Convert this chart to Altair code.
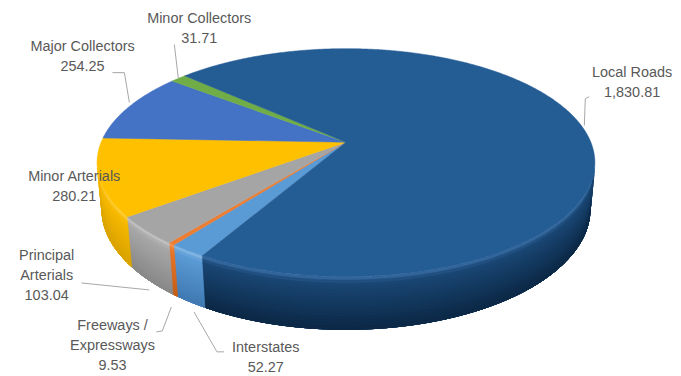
import altair as alt
import numpy as np
import pandas as pd

# ---- data ----
categories = ["Interstates", "Freeways / Expressways", "Principal Arterials",
              "Minor Arterials", "Major Collectors", "Minor Collectors", "Local Roads"]
values = [52.27, 9.53, 103.04, 280.21, 254.25, 31.71, 1830.81]
value_labels = ["52.27", "9.53", "103.04", "280.21", "254.25", "31.71", "1,830.81"]
name_lines = [["Interstates"], ["Freeways /", "Expressways"], ["Principal", "Arterials"],
              ["Minor Arterials"], ["Major Collectors"], ["Minor Collectors"], ["Local Roads"]]

# ---- style ----
top_colors = ["#5B9BD5", "#ED7D31", "#A5A5A5", "#FFC000", "#4472C4", "#70AD47", "#245C94"]
wall_edge = ["#8CBDE8", "#F59A5A", "#C8C8C8", "#FFD24D", "#6E92D6", "#8CC466", "#3A70A8"]
wall_hi = ["#5B9BD5", "#E8772A", "#A8A8A8", "#F7BA00", "#3F6BB8", "#66A03F", "#1A4674"]
wall_lo = ["#4079B2", "#C45E17", "#888888", "#D9A200", "#30579A", "#52862F", "#0C2845"]

CX, CY, F, DIST = 347.5, 142.0, 1225.0, 4.98
SIN_A = 0.4506
COS_A = float(np.sqrt(1 - SIN_A ** 2))
DEPTH = 0.2144
START = -119.7  # first slice starts here, slices go clockwise

# label placement: anchor kind, offset of first text line, leader offsets
label_style = {
    "Interstates": ("bottom", (75, 46), [(3, 10), (26, 50), (33, 50)]),
    "Freeways / Expressways": ("bottom", (-63, 31), [(-19, 37), (-13, 36), (-4, 12)]),
    "Principal Arterials": ("bottom", (-104, -25), [(-69, 2), (-1, 9)]),
    "Minor Arterials": ("top", (-25, 0), []),
    "Major Collectors": ("top", (-47, -60), [(0, -4), (-5, -34), (-17, -34)]),
    "Minor Collectors": ("top", (21, -60), [(0, 0), (-4, -34)]),
    "Local Roads": ("top", (51, -53), [(3, 0), (4, -27), (8, -29)]),
}


def hex2rgb(h):
    return np.array([int(h[i:i + 2], 16) for i in (1, 3, 5)], dtype=float)


def mix(c1, c2, w):
    r = hex2rgb(c1) * (1 - w) + hex2rgb(c2) * w
    return "#" + "".join(f"{int(round(v)):02X}" for v in r)


def proj(t, yv=0.0):
    tr = np.radians(t)
    X, Z = np.cos(tr), np.sin(tr)
    depth = DIST + Z * COS_A - yv * SIN_A
    sx = CX + F * X / depth
    sy = CY - F * (yv * COS_A + Z * SIN_A) / depth
    return sx, sy


total = float(sum(values))
spans = [v / total * 360.0 for v in values]
bounds = []
a = START
for s in spans:
    bounds.append((a, a - s))
    a -= s

lim = np.degrees(np.arcsin(1.0 / (DIST * COS_A)))
face_lo, face_hi = -180 + lim, -lim

poly_rows, keys, cols = [], [], []


def add_poly(key, color, pts):
    keys.append(key)
    cols.append(color)
    for i, (px, py) in enumerate(pts):
        poly_rows.append({"key": key, "i": i, "x": float(px), "y": float(py)})


NB = 16
band_edges = np.linspace(0.0, 1.0, NB + 1)


def wall_color(ci, f):
    # highlight just under the top edge, then a smooth darkening downwards
    if f < 0.12:
        return mix(wall_edge[ci], wall_hi[ci], f / 0.12)
    return mix(wall_hi[ci], wall_lo[ci], (f - 0.12) / 0.88)


# walls: each band runs from its own top edge down to the bottom of the wall,
# drawn top band first, so later bands cover earlier ones without seams
for band in range(NB):
    y0 = band_edges[band]
    colf = (band_edges[band] + band_edges[band + 1]) / 2
    for ci, (a0, a1) in enumerate(bounds):
        for k in range(-2, 2):
            lo = max(a1, face_lo + 360 * k)
            hi = min(a0, face_hi + 360 * k)
            if hi <= lo:
                continue
            n = max(3, int((hi - lo) / 0.75) + 2)
            ts = np.linspace(hi, lo, n)
            top = [proj(t, -y0 * DEPTH) for t in ts]
            bot = [proj(t, -DEPTH) for t in ts[::-1]]
            pts = top + bot + [top[0]]
            add_poly(f"wall{band:02d}|{categories[ci]}|{k}", wall_color(ci, colf), pts)

# top faces
for ci, (a0, a1) in enumerate(bounds):
    n = max(3, int((a0 - a1) / 0.5) + 2)
    ts = np.linspace(a0, a1, n)
    pts = [(CX, CY)] + [proj(t) for t in ts] + [(CX, CY)]
    add_poly(f"top|{categories[ci]}", top_colors[ci], pts)

polys = pd.DataFrame(poly_rows)

# labels and leader lines
text_rows, lead_rows = [], []
for ci, cat in enumerate(categories):
    kind, (ox, oy), lead = label_style[cat]
    a0, a1 = bounds[ci]
    mid = (a0 + a1) / 2
    ax, ay = proj(mid, 0.0 if kind == "top" else -DEPTH)
    lines = name_lines[ci] + [value_labels[ci]]
    for li, txt in enumerate(lines):
        text_rows.append({"text": txt, "x": ax + ox, "y": ay + oy + 20 * li})
    for j, (dx, dy) in enumerate(lead):
        lead_rows.append({"lid": cat, "j": j, "x": ax + dx, "y": ay + dy})

texts = pd.DataFrame(text_rows)
leads = pd.DataFrame(lead_rows)

W, H = 665, 360
xs = alt.Scale(domain=[8, 8 + W], zero=False, nice=False)
ys = alt.Scale(domain=[8, 8 + H], zero=False, nice=False, reverse=True)

cscale = alt.Scale(domain=keys, range=cols)

shapes = alt.Chart(polys).mark_line(strokeWidth=0.5, strokeJoin="round").encode(
    x=alt.X("x:Q", scale=xs, axis=None),
    y=alt.Y("y:Q", scale=ys, axis=None),
    color=alt.Color("key:N", scale=cscale, legend=None),
    fill=alt.Fill("key:N", scale=cscale, legend=None),
    order=alt.Order("i:Q"),
)

leaders = alt.Chart(leads).mark_line(color="#A6A6A6", strokeWidth=1).encode(
    x=alt.X("x:Q", scale=xs, axis=None),
    y=alt.Y("y:Q", scale=ys, axis=None),
    detail="lid:N",
    order=alt.Order("j:Q"),
)

labels = alt.Chart(texts).mark_text(
    font="Liberation Sans", fontSize=14.5, color="#595959", align="center", baseline="middle"
).encode(
    x=alt.X("x:Q", scale=xs, axis=None),
    y=alt.Y("y:Q", scale=ys, axis=None),
    text="text:N",
)

chart = alt.layer(shapes, leaders, labels).properties(
    width=W, height=H, padding=0, background="white"
).configure_view(stroke=None)

chart.save("out.html", embed_options={"renderer": "svg", "actions": False})
